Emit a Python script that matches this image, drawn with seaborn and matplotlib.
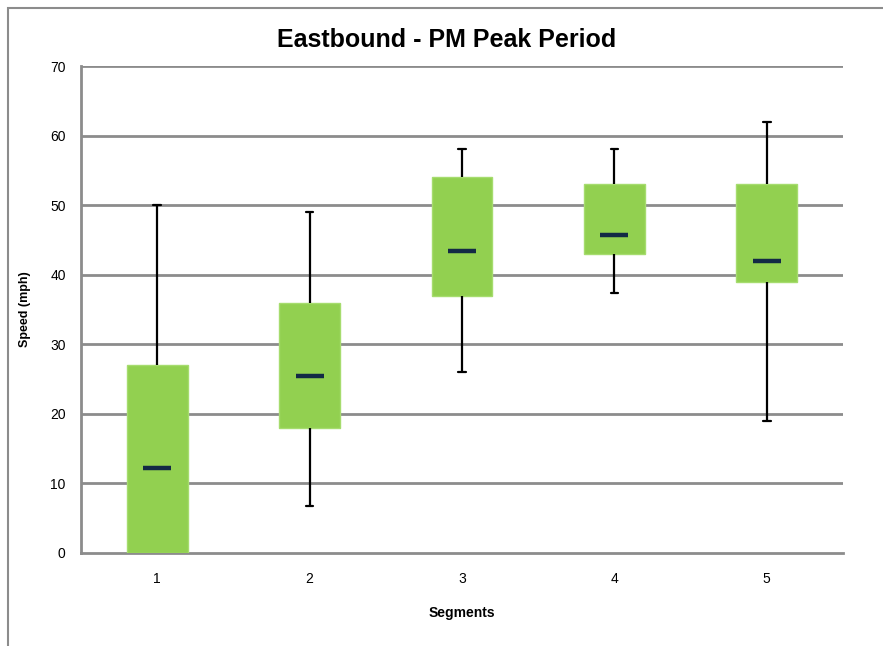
import numpy as np
import pandas as pd
import seaborn as sns
import matplotlib.pyplot as plt
from matplotlib.patches import Rectangle

# box statistics (mph)
segments = ["1", "2", "3", "4", "5"]
whisker_low = [0, 6.7, 26, 37.4, 19]
q1 = [0, 18, 37, 43, 39]
median = [12.2, 25.4, 43.4, 45.75, 41.9]
q3 = [27, 36, 54, 53, 53]
whisker_high = [50, 49, 58, 58, 62]

# five points per segment -> quartiles/extremes come out exactly
rows = []
for i, seg in enumerate(segments):
    for v in (whisker_low[i], q1[i], median[i], q3[i], whisker_high[i]):
        rows.append({"Segments": seg, "Speed": v})
df = pd.DataFrame(rows)
med_df = pd.DataFrame({"Segments": segments, "Speed": median})

sns.set_style("white")
plt.rcParams["font.family"] = ["Liberation Sans Narrow", "Liberation Sans", "DejaVu Sans"]
plt.rcParams["text.color"] = "black"
plt.rcParams["axes.labelcolor"] = "black"
plt.rcParams["xtick.labelcolor"] = "black"
plt.rcParams["ytick.labelcolor"] = "black"

fig = plt.figure(figsize=(8.83, 6.46), dpi=100)
ax = fig.add_axes([81 / 883, 93 / 646, 762 / 883, 487 / 646])

green = "#92D050"
grid_c = "#8C8C8C"

sns.boxplot(data=df, x="Segments", y="Speed", order=segments, ax=ax,
            whis=(0, 100), width=0.4, color=green, linecolor="black",
            linewidth=1.6, saturation=1, capwidths=0.05,
            medianprops=dict(visible=False), showfliers=False, zorder=3)

for p in ax.patches:
    p.set_edgecolor("#A6DC6E")
    p.set_linewidth(1)

# segment 1 has no lower whisker (it sits on zero)
for ln in ax.lines:
    yd = np.asarray(ln.get_ydata(), dtype=float)
    if yd.size and np.all(yd == 0):
        ln.set_visible(False)

sns.scatterplot(data=med_df, x="Segments", y="Speed", ax=ax, marker="_",
                s=380, linewidth=3.2, color="#132A45", zorder=5)

ax.set_ylim(0, 70)
ax.set_xlim(-0.5, 4.5)
ax.set_yticks(range(0, 71, 10))
for y in range(10, 71, 10):
    ax.axhline(y, color=grid_c, linewidth=2, zorder=1)

for side in ("top", "right"):
    ax.spines[side].set_visible(False)
for side in ("left", "bottom"):
    ax.spines[side].set_color(grid_c)
    ax.spines[side].set_linewidth(2)

ax.set_xticks(np.arange(-0.5, 4.6, 1), minor=True)
ax.tick_params(axis="x", which="major", length=0, labelsize=10, pad=14)
ax.tick_params(axis="x", which="minor", length=5, width=1.5, color=grid_c, direction="out")
ax.tick_params(axis="y", length=5, width=1.5, color=grid_c, direction="out", labelsize=10, pad=6)

ax.set_xlabel("Segments", fontsize=10, fontweight="bold", labelpad=14)
ax.set_ylabel("Speed (mph)", fontsize=9, fontweight="bold", labelpad=14)
fig.text(447 / 883, 1 - 40 / 646, "Eastbound - PM Peak Period", ha="center",
         va="center", fontsize=18, fontweight="bold")

# chart frame, cut off at right and bottom
fig.patches.append(Rectangle((8 / 883, -0.1), 1.1, 1 - 8 / 646 + 0.1,
                             transform=fig.transFigure, fill=False,
                             edgecolor="#8C8C8C", linewidth=1.5))

fig.savefig("out.png", dpi=100)
